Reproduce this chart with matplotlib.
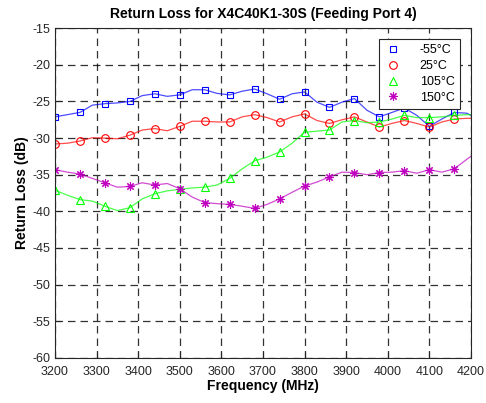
import matplotlib
matplotlib.use("Agg")
import matplotlib.pyplot as plt

plt.rcParams['font.family'] = ['Liberation Sans', 'DejaVu Sans']
plt.rcParams['axes.unicode_minus'] = False

# frequency points (MHz), markers are on every other point (60 MHz step)
freq = [3200, 3230, 3260, 3290, 3320, 3350, 3380, 3410, 3440, 3470,
        3500, 3530, 3560, 3590, 3620, 3650, 3680, 3710, 3740, 3770,
        3800, 3830, 3860, 3890, 3920, 3950, 3980, 4010, 4040, 4070,
        4100, 4130, 4160, 4190, 4200]

rl_m55 = [-27.1, -26.8, -26.5, -25.5, -25.3, -25.2, -25.0, -24.2, -23.95, -24.3,
          -24.1, -23.4, -23.4, -23.9, -24.1, -23.6, -23.3, -23.95, -24.7, -23.95,
          -23.7, -25.1, -25.8, -25.1, -24.6, -26.2, -27.1, -26.5, -25.9, -26.9,
          -28.4, -27.4, -26.5, -26.6, -26.9]

rl_25 = [-30.8, -30.7, -30.4, -29.95, -30.0, -30.1, -29.6, -28.9, -28.7, -29.0,
         -28.4, -27.7, -27.7, -27.8, -27.8, -27.1, -26.8, -27.2, -27.8, -27.1,
         -26.7, -27.6, -28.0, -27.5, -27.1, -27.8, -28.5, -28.0, -27.6, -28.0,
         -28.5, -27.8, -27.4, -27.3, -27.3]

rl_105 = [-37.1, -37.8, -38.4, -38.6, -39.3, -39.9, -39.5, -38.3, -37.6, -37.2,
          -37.0, -36.8, -36.7, -36.4, -35.5, -34.2, -33.1, -32.6, -31.9, -30.7,
          -29.2, -29.05, -28.9, -27.8, -27.6, -27.9, -27.8, -27.4, -26.9, -27.2,
          -27.2, -27.1, -26.9, -26.8, -26.8]

rl_150 = [-34.3, -34.65, -34.9, -35.5, -36.1, -36.7, -36.6, -36.1, -36.4, -36.2,
          -36.9, -38.05, -38.8, -38.95, -39.05, -39.3, -39.6, -39.05, -38.3, -37.4,
          -36.55, -36.0, -35.3, -34.65, -34.7, -35.0, -34.7, -34.65, -34.45, -34.8,
          -34.3, -34.65, -34.2, -32.9, -32.5]

labels = ['-55°C', '25°C', '105°C', '150°C']
xticks = list(range(3200, 4201, 100))
yticks = list(range(-60, -14, 5))

fig = plt.figure(figsize=(4.86, 4.03), dpi=100)
ax = fig.add_axes([0.113, 0.112, 0.856, 0.818])

styles = [(rl_m55, 'b', 's', 4.3), (rl_25, 'r', 'o', 5.5),
          (rl_105, (0, 1, 0), '^', 5.5), (rl_150, 'm', (8, 2, 0), 6)]
for (vals, col, mk, ms), lab in zip(styles, labels):
    ax.plot(freq, vals, color=col, lw=0.9, alpha=0.7)
    ax.plot(freq[:-1:2], vals[:-1:2], ls='none', marker=mk, ms=ms,
            mfc='none', mec=col, mew=0.8, label=lab)

ax.set_xlim(3200, 4200)
ax.set_ylim(-60, -15)
ax.set_xticks(xticks)
ax.set_yticks(yticks)
ax.tick_params(direction='in', labelsize=9, colors='#262626', length=4)
ax.tick_params(axis='x', pad=6)
for s in ax.spines.values():
    s.set_color('#262626')
ax.grid(True, color='black', ls=(0, (6, 4)), lw=0.9, alpha=0.8)

ax.set_title('Return Loss for X4C40K1-30S (Feeding Port 4)', fontsize=10,
             fontweight='bold', pad=7)
ax.set_xlabel('Frequency (MHz)', fontsize=10, fontweight='bold', labelpad=0.5)
ax.set_ylabel('Return Loss (dB)', fontsize=10, fontweight='bold', labelpad=2)

leg = ax.legend(loc='upper right', fontsize=9, fancybox=False, framealpha=1,
                edgecolor='#262626', handletextpad=1.4, borderaxespad=0.9,
                labelspacing=0.3, handlelength=1.5)
leg.get_frame().set_linewidth(0.8)

fig.savefig('out.png', dpi=100)
